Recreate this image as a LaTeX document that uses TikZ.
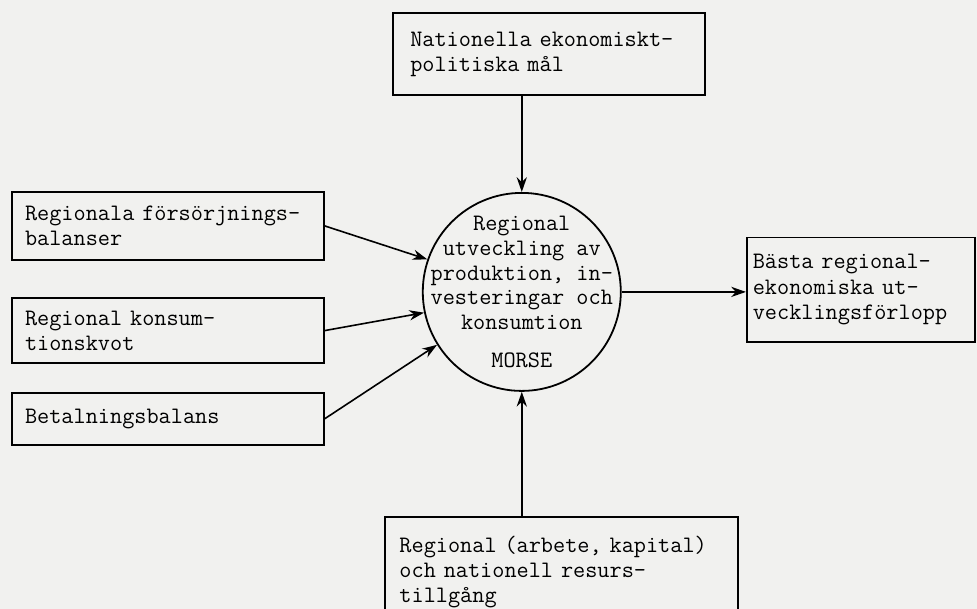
\documentclass[tikz,border=0pt]{standalone}
\usepackage{tikz}
\usetikzlibrary{arrows.meta}
\definecolor{paper}{RGB}{241,241,239}

\begin{document}
\begin{tikzpicture}[
        box/.style={draw, line width=0.9pt, fill=paper, align=left, inner sep=0pt, font=\ttfamily\fontsize{11.8}{12.6}\selectfont},
        model/.style={draw, circle, line width=0.9pt, fill=paper, align=center, inner sep=-12pt, minimum size=3.48cm, font=\ttfamily\fontsize{11.8}{12.4}\selectfont},
        flow/.style={-{Stealth[length=2.6mm, width=1.8mm]}, line width=0.8pt}
    ]
        \fill[paper] (0,0) rectangle (17.17,10.70);
        \useasboundingbox (0,0) rectangle (17.17,10.70);

        \node[box, minimum width=5.48cm, minimum height=1.44cm, text width=4.88cm] (goals) at (9.65,9.75) {Nationella ekonomiskt-\\politiska mål};

        \node[box, minimum width=5.48cm, minimum height=1.20cm, text width=5.02cm] (supply) at (2.95,6.73) {Regionala försörjnings-\\balanser};
        \node[box, minimum width=5.48cm, minimum height=1.14cm, text width=5.02cm] (ratio) at (2.95,4.89) {Regional konsum-\\tionskvot};
        \node[box, minimum width=5.48cm, minimum height=0.91cm, text width=5.02cm] (payments) at (2.95,3.34) {Betalningsbalans};

        \node[model] (morse) at (9.17,5.57) {Regional\\utveckling av\\produktion, in-\\vesteringar och\\konsumtion\\[0.55em]MORSE};

        \node[box, minimum width=4.01cm, minimum height=1.83cm, text width=3.80cm] (best) at (15.13,5.61) {Bästa regional-\\ekonomiska ut-\\vecklingsförlopp};

        \node[box, minimum width=6.20cm, minimum height=1.93cm, text width=5.70cm] (resources) at (9.87,0.65) {Regional (arbete, kapital)\\och nationell resurs-\\tillgång};

        \draw[flow] (goals.south -| morse.north) -- (morse.north);
        \draw[flow] (supply.east) -- (morse.161);
        \draw[flow] (ratio.east) -- (morse.192);
        \draw[flow] (payments.east) -- (morse.212);
        \draw[flow] (resources.north -| morse.south) -- (morse.south);
        \draw[flow] (morse.east) -- (morse.east -| best.west);
    \end{tikzpicture}
\end{document}
